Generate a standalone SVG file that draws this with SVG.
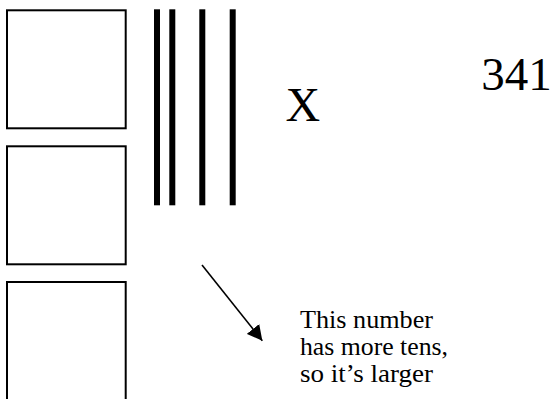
<svg xmlns="http://www.w3.org/2000/svg" width="554" height="399" viewBox="0 0 554 399">
  <style>
    .box { fill: #fff; stroke: #000; stroke-width: 2; }
    .bar { fill: #000; }
    .t { font-family: "Liberation Serif", "Times New Roman", serif; fill: #000; }
    .conn { stroke: #000; stroke-width: 1.6; fill: none; }
  </style>
  <defs>
    <marker id="ah" markerWidth="15" markerHeight="16" refX="15" refY="8" orient="auto" markerUnits="userSpaceOnUse" viewBox="0 0 15 16">
      <path d="M0,0 L15,8 L0,16 Z" fill="#000"/>
    </marker>
  </defs>
  <rect width="554" height="399" fill="#fff"/>
  <g id="hundred1"><rect class="box" x="7" y="10.3" width="118.7" height="118"/></g>
  <g id="hundred2"><rect class="box" x="7" y="146.3" width="118.7" height="118"/></g>
  <g id="hundred3"><rect class="box" x="7" y="282" width="118.7" height="200"/></g>
  <g id="tens">
    <rect class="bar" x="154" y="9.3" width="6" height="196"/>
    <rect class="bar" x="169.3" y="9.3" width="6" height="196"/>
    <rect class="bar" x="199.3" y="9.3" width="6" height="196"/>
    <rect class="bar" x="229.7" y="9.3" width="6" height="196"/>
  </g>
  <g id="cross"><text class="t" x="285.5" y="120.5" font-size="48">X</text></g>
  <g id="number"><text class="t" x="481.3" y="90" font-size="47">341</text></g>
  <g id="caption">
    <text class="t" font-size="25">
      <tspan x="300" y="328" textLength="133" lengthAdjust="spacingAndGlyphs">This number</tspan>
      <tspan x="300" y="355" textLength="148" lengthAdjust="spacingAndGlyphs">has more tens,</tspan>
      <tspan x="300" y="382" textLength="133" lengthAdjust="spacingAndGlyphs">so it’s larger</tspan>
    </text>
  </g>
  <g id="connectors">
    <line class="conn" x1="202" y1="265" x2="262.3" y2="340.7" marker-end="url(#ah)"/>
  </g>
</svg>
